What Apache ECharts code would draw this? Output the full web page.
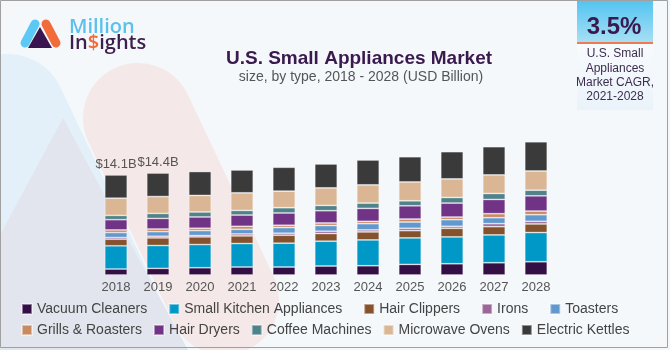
<!DOCTYPE html>
<html>
<head>
<meta charset="utf-8">
<script src="https://cdn.jsdelivr.net/npm/echarts@6/dist/echarts.min.js"></script>
<style>
  html, body { margin: 0; padding: 0; background: #fff; }
  #main { width: 670px; height: 350px; }
</style>
</head>
<body>
<div id="main"></div>
<script>
// years on the x axis
var years = ['2018', '2019', '2020', '2021', '2022', '2023', '2024', '2025', '2026', '2027', '2028'];

// USD Billion
var vacuumCleaners = [0.84, 0.93, 1.02, 1.12, 1.12, 1.26, 1.30, 1.49, 1.58, 1.72, 1.86];
var smallKitchen   = [3.26, 3.21, 3.26, 3.30, 3.35, 3.49, 3.63, 3.72, 3.77, 3.91, 4.10];
var hairClippers   = [0.93, 1.07, 1.07, 1.07, 1.12, 1.07, 1.12, 1.02, 1.21, 1.16, 1.21];
var irons          = [0.23, 0.23, 0.19, 0.28, 0.28, 0.33, 0.28, 0.33, 0.28, 0.42, 0.37];
var toasters       = [0.70, 0.65, 0.70, 0.65, 0.79, 0.79, 0.88, 0.88, 0.93, 0.84, 0.93];
var grillsRoasters = [0.37, 0.37, 0.33, 0.42, 0.33, 0.37, 0.33, 0.42, 0.37, 0.56, 0.51];
var hairDryers     = [1.44, 1.49, 1.58, 1.58, 1.72, 1.72, 1.82, 1.86, 1.96, 2.00, 2.14];
var coffeeMachines = [0.60, 0.70, 0.70, 0.65, 0.74, 0.74, 0.74, 0.70, 0.79, 0.84, 0.79];
var microwaveOvens = [2.42, 2.37, 2.33, 2.47, 2.33, 2.47, 2.56, 2.65, 2.61, 2.61, 2.70];
var electricKettles= [3.26, 3.30, 3.35, 3.21, 3.35, 3.35, 3.49, 3.54, 3.82, 3.96, 4.10];

// labels shown above the first two bars
var totalLabels = ['$14.1B', '$14.4B', '', '', '', '', '', '', '', '', ''];

var seriesNames = ['Vacuum Cleaners', 'Small Kitchen Appliances', 'Hair Clippers', 'Irons', 'Toasters',
  'Grills & Roasters', 'Hair Dryers', 'Coffee Machines', 'Microwave Ovens', 'Electric Kettles'];
var seriesData = [vacuumCleaners, smallKitchen, hairClippers, irons, toasters,
  grillsRoasters, hairDryers, coffeeMachines, microwaveOvens, electricKettles];
var colors = ['#330f45', '#0098c6', '#85522e', '#9b6797', '#6199cf',
  '#c98a62', '#713386', '#4f8289', '#dbb694', '#3a3a3a'];

var FONT = "'Liberation Sans', Arial, sans-serif";

var chart = echarts.init(document.getElementById('main'), null, { renderer: 'canvas' });

var series = seriesNames.map(function (name, i) {
  var s = {
    name: name,
    type: 'bar',
    stack: 'total',
    barWidth: 22.5,
    data: seriesData[i],
    itemStyle: { color: colors[i], borderColor: 'rgba(255,255,255,0.45)', borderWidth: 0.8 },
    emphasis: { disabled: true }
  };
  if (i === seriesNames.length - 1) {
    s.label = {
      show: true,
      position: 'top',
      distance: 4,
      color: '#555',
      fontSize: 13,
      fontFamily: FONT,
      formatter: function (p) { return totalLabels[p.dataIndex]; }
    };
  }
  return s;
});

// rounded band from (x1,y1) to (x2,y2): faded logo in the background
function capsule(x1, y1, x2, y2, r, color, z) {
  return {
    type: 'line', silent: true, z: z,
    shape: { x1: x1, y1: y1, x2: x2, y2: y2 },
    style: { stroke: color, lineWidth: 2 * r, lineCap: 'round' }
  };
}

var option = {
  animation: false,
  backgroundColor: '#f4f8fb',
  textStyle: { fontFamily: FONT },
  grid: { left: 95, right: 113, top: 132.6, bottom: 75 },
  xAxis: {
    type: 'category',
    data: years,
    axisLine: { show: false },
    axisTick: { show: false },
    axisLabel: { color: '#555', fontSize: 13, margin: 6, fontFamily: FONT }
  },
  yAxis: {
    type: 'value',
    min: 0,
    max: 20,
    show: false,
    splitLine: { show: false }
  },
  legend: [
    {
      data: seriesNames.slice(0, 5),
      left: 21, top: 302, padding: 0,
      itemGap: 21, itemWidth: 10, itemHeight: 10, icon: 'rect',
      textStyle: { color: '#444', fontSize: 14, fontFamily: FONT },
      selectedMode: false
    },
    {
      data: seriesNames.slice(5),
      left: 21, top: 323, padding: 0,
      itemGap: 11, itemWidth: 10, itemHeight: 10, icon: 'rect',
      textStyle: { color: '#444', fontSize: 14, fontFamily: FONT },
      selectedMode: false
    }
  ],
  graphic: [
    // background faded logo shapes
    capsule(8, 112, 98, 302, 58, '#e3f0f9', -10),
    {
      type: 'polygon', silent: true, z: -9,
      shape: { points: [[63, 118], [188, 350], [-62, 350]] },
      style: { fill: '#e2e5ed' }
    },
    capsule(138, 118, 224, 300, 55, '#f5e8e8', -9),
    // border
    {
      type: 'rect', silent: true, z: 100,
      shape: { x: 0.5, y: 0.5, width: 667, height: 347 },
      style: { fill: 'none', stroke: '#a0a0a0', lineWidth: 1 }
    },
    // logo
    {
      type: 'line', silent: true,
      shape: { x1: 25, y1: 43, x2: 35, y2: 24 },
      style: { stroke: '#5bc8f5', lineWidth: 9, lineCap: 'round' }
    },
    {
      type: 'line', silent: true,
      shape: { x1: 46, y1: 24, x2: 56, y2: 43 },
      style: { stroke: '#f26b3a', lineWidth: 9, lineCap: 'round' }
    },
    {
      type: 'polygon', silent: true,
      shape: { points: [[40, 27], [28, 48], [52, 48]] },
      style: { fill: '#3b1550' }
    },
    {
      type: 'text', silent: true, x: 69, y: 27,
      style: { text: 'Million', fill: '#5bc0eb', font: "600 20px 'Open Sans', sans-serif", verticalAlign: 'middle' }
    },
    {
      type: 'text', silent: true, x: 69, y: 43,
      style: {
        text: 'In{o|$}ights', fill: '#3d1f4d', font: "600 20px 'Open Sans', sans-serif", verticalAlign: 'middle',
        rich: { o: { fill: '#f26b3a', font: "600 20px 'Open Sans', sans-serif" } }
      }
    },
    // title
    {
      type: 'text', silent: true, x: 359, y: 59,
      style: { text: 'U.S. Small Appliances Market', fill: '#3a1a4e', font: 'bold 19px ' + FONT, align: 'center', verticalAlign: 'middle' }
    },
    {
      type: 'text', silent: true, x: 361, y: 77.5,
      style: { text: 'size, by type, 2018 - 2028 (USD Billion)', fill: '#555', font: '14px ' + FONT, align: 'center', verticalAlign: 'middle' }
    },
    // CAGR box
    {
      type: 'rect', silent: true,
      shape: { x: 577, y: 0, width: 76, height: 43 },
      style: {
        fill: new echarts.graphic.LinearGradient(0, 0, 0, 1, [
          { offset: 0, color: '#52c4ef' },
          { offset: 1, color: '#a8e0f6' }
        ])
      }
    },
    {
      type: 'rect', silent: true,
      shape: { x: 577, y: 43, width: 76, height: 67 },
      style: {
        fill: new echarts.graphic.LinearGradient(0, 0, 0, 1, [
          { offset: 0, color: '#f8fbfe' },
          { offset: 1, color: '#eaf3fa' }
        ])
      }
    },
    {
      type: 'rect', silent: true,
      shape: { x: 577, y: 42, width: 76, height: 2 },
      style: { fill: '#f07b4f' }
    },
    {
      type: 'text', silent: true, x: 614, y: 27,
      style: { text: '3.5%', fill: '#3a1a4e', font: 'bold 24px ' + FONT, align: 'center', verticalAlign: 'middle' }
    },
    {
      type: 'text', silent: true, x: 615, y: 47,
      style: {
        text: 'U.S. Small\nAppliances\nMarket CAGR,\n2021-2028',
        fill: '#3d2d4d', font: '12px ' + FONT, align: 'center', verticalAlign: 'top', lineHeight: 14.3
      }
    }
  ],
  series: series
};

chart.setOption(option);
</script>
</body>
</html>
